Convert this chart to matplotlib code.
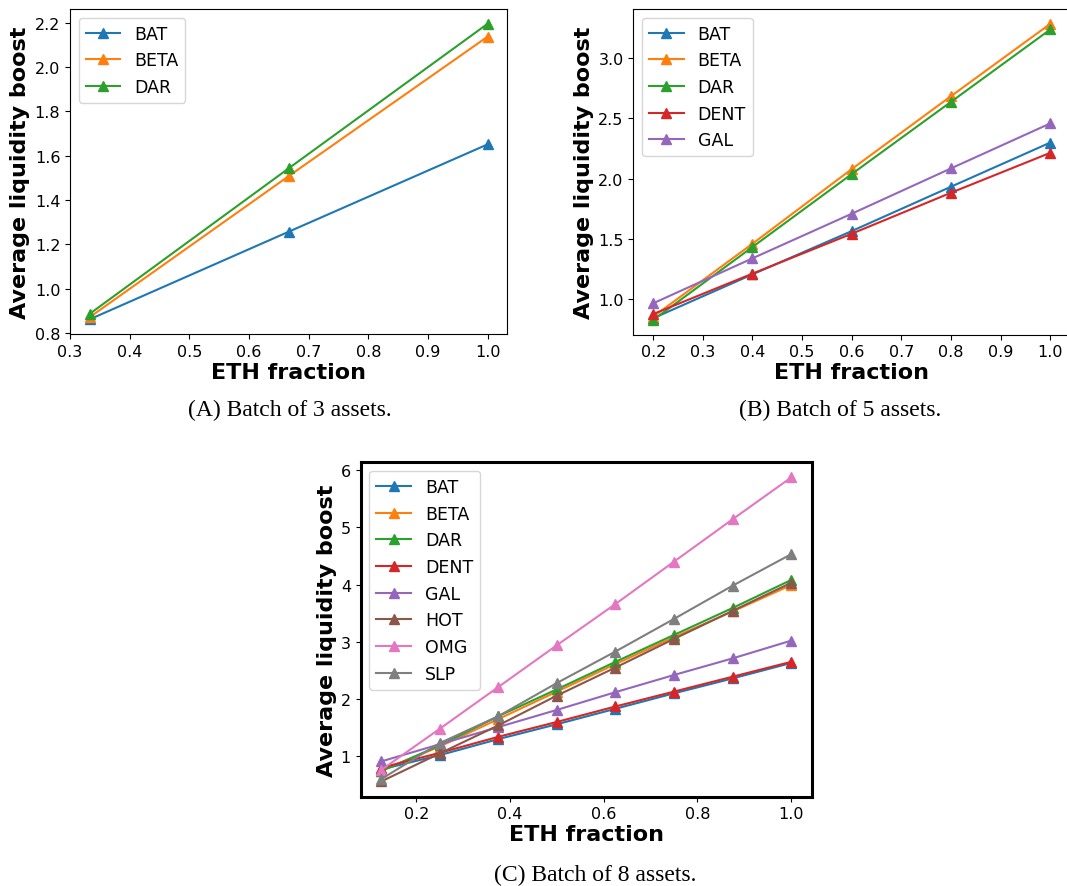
import matplotlib
matplotlib.use("Agg")
import matplotlib.pyplot as plt

plt.rc('font', size=11.5)
plt.rc('axes', labelsize=16, labelweight='bold')

# (A) batch of 3 assets
frac_a = [1/3, 2/3, 1.0]
names_a = ["BAT", "BETA", "DAR"]
boost_a = [
    [0.862, 1.257, 1.651],
    [0.872, 1.508, 2.137],
    [0.887, 1.543, 2.195],
]

# (B) batch of 5 assets
frac_b = [0.2, 0.4, 0.6, 0.8, 1.0]
names_b = ["BAT", "BETA", "DAR", "DENT", "GAL"]
boost_b = [
    [0.843, 1.207, 1.566, 1.934, 2.300],
    [0.856, 1.461, 2.080, 2.685, 3.285],
    [0.829, 1.434, 2.039, 2.638, 3.238],
    [0.878, 1.213, 1.544, 1.884, 2.215],
    [0.967, 1.340, 1.710, 2.086, 2.459],
]

# (C) batch of 8 assets
frac_c = [0.125, 0.25, 0.375, 0.5, 0.625, 0.75, 0.875, 1.0]
names_c = ["BAT", "BETA", "DAR", "DENT", "GAL", "HOT", "OMG", "SLP"]
boost_c = [
    [0.77, 1.02, 1.30, 1.56, 1.83, 2.10, 2.36, 2.63],
    [0.75, 1.17, 1.65, 2.13, 2.61, 3.08, 3.53, 3.99],
    [0.74, 1.19, 1.70, 2.17, 2.65, 3.12, 3.59, 4.08],
    [0.80, 1.06, 1.34, 1.60, 1.87, 2.13, 2.39, 2.65],
    [0.91, 1.21, 1.51, 1.81, 2.12, 2.42, 2.71, 3.02],
    [0.56, 1.05, 1.54, 2.06, 2.55, 3.05, 3.54, 4.03],
    [0.76, 1.48, 2.21, 2.94, 3.66, 4.40, 5.14, 5.87],
    [0.60, 1.23, 1.70, 2.28, 2.83, 3.40, 3.98, 4.53],
]

captions = ["(A) Batch of 3 assets.", "(B) Batch of 5 assets.", "(C) Batch of 8 assets."]

fig = plt.figure(figsize=(10.67, 8.87), dpi=100)
ax_a = fig.add_axes([0.0656, 0.6223, 0.410, 0.3664])
ax_b = fig.add_axes([0.5936, 0.6215, 0.4093, 0.3672])
ax_c = fig.add_axes([0.338, 0.1007, 0.4227, 0.377])

panels = [(ax_a, frac_a, names_a, boost_a),
          (ax_b, frac_b, names_b, boost_b),
          (ax_c, frac_c, names_c, boost_c)]

for ax, frac, names, boost in panels:
    for name, vals in zip(names, boost):
        ax.plot(frac, vals, marker='^', markersize=7, label=name)
    ax.set_xlabel("ETH fraction", labelpad=2)
    ax.set_ylabel("Average liquidity boost", labelpad=3)
    ax.legend(loc='upper left', fontsize=12.5)

for spine in ax_c.spines.values():
    spine.set_linewidth(2.2)

fig.text(0.272, 1 - 410 / 887, captions[0], family='Liberation Serif', fontsize=17, ha='center', va='center')
fig.text(0.787, 1 - 410 / 887, captions[1], family='Liberation Serif', fontsize=17, ha='center', va='center')
fig.text(0.558, 1 - 875 / 887, captions[2], family='Liberation Serif', fontsize=17, ha='center', va='center')

plt.savefig("out.png", dpi=100)
plt.close()
